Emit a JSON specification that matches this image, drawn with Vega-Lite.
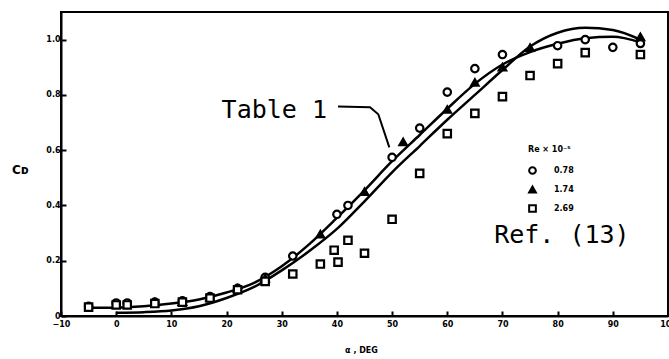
{
  "$schema": "https://vega.github.io/schema/vega-lite/v6.json",
  "width": 607,
  "height": 304,
  "autosize": {"type": "none"},
  "padding": {"left": 61, "top": 12, "right": 1, "bottom": 43},
  "background": "white",
  "config": {
    "view": {"stroke": "black", "strokeWidth": 2},
    "font": "DejaVu Sans",
    "axis": {"grid": false, "domainColor": "black", "domainWidth": 2, "tickColor": "black", "tickWidth": 2, "labelColor": "black", "titleColor": "black"},
    "legend": {"titleFontSize": 8, "titleFontWeight": "bold", "labelFontSize": 8, "labelFontWeight": "bold", "symbolSize": 45, "symbolStrokeWidth": 2, "rowPadding": 4, "labelOffset": 17, "titlePadding": 12}
  },
  "datasets": {
    "curves": [
      {"a": -5, "cd": 0.03, "src": "Ref. (13)"},
      {"a": 0, "cd": 0.03, "src": "Ref. (13)"},
      {"a": 5, "cd": 0.035, "src": "Ref. (13)"},
      {"a": 10, "cd": 0.045, "src": "Ref. (13)"},
      {"a": 15, "cd": 0.06, "src": "Ref. (13)"},
      {"a": 20, "cd": 0.085, "src": "Ref. (13)"},
      {"a": 25, "cd": 0.12, "src": "Ref. (13)"},
      {"a": 30, "cd": 0.18, "src": "Ref. (13)"},
      {"a": 35, "cd": 0.26, "src": "Ref. (13)"},
      {"a": 40, "cd": 0.355, "src": "Ref. (13)"},
      {"a": 45, "cd": 0.455, "src": "Ref. (13)"},
      {"a": 50, "cd": 0.56, "src": "Ref. (13)"},
      {"a": 55, "cd": 0.655, "src": "Ref. (13)"},
      {"a": 60, "cd": 0.75, "src": "Ref. (13)"},
      {"a": 65, "cd": 0.84, "src": "Ref. (13)"},
      {"a": 70, "cd": 0.91, "src": "Ref. (13)"},
      {"a": 75, "cd": 0.955, "src": "Ref. (13)"},
      {"a": 80, "cd": 0.985, "src": "Ref. (13)"},
      {"a": 85, "cd": 1.005, "src": "Ref. (13)"},
      {"a": 90, "cd": 1.01, "src": "Ref. (13)"},
      {"a": 95, "cd": 0.99, "src": "Ref. (13)"},
      {"a": 0, "cd": 0.012, "src": "Table 1"},
      {"a": 5, "cd": 0.014, "src": "Table 1"},
      {"a": 10, "cd": 0.02, "src": "Table 1"},
      {"a": 15, "cd": 0.035, "src": "Table 1"},
      {"a": 20, "cd": 0.065, "src": "Table 1"},
      {"a": 25, "cd": 0.105, "src": "Table 1"},
      {"a": 30, "cd": 0.165, "src": "Table 1"},
      {"a": 35, "cd": 0.235, "src": "Table 1"},
      {"a": 40, "cd": 0.315, "src": "Table 1"},
      {"a": 45, "cd": 0.415, "src": "Table 1"},
      {"a": 50, "cd": 0.52, "src": "Table 1"},
      {"a": 55, "cd": 0.615, "src": "Table 1"},
      {"a": 60, "cd": 0.71, "src": "Table 1"},
      {"a": 65, "cd": 0.8, "src": "Table 1"},
      {"a": 70, "cd": 0.89, "src": "Table 1"},
      {"a": 75, "cd": 0.975, "src": "Table 1"},
      {"a": 80, "cd": 1.025, "src": "Table 1"},
      {"a": 85, "cd": 1.043, "src": "Table 1"},
      {"a": 90, "cd": 1.035, "src": "Table 1"},
      {"a": 95, "cd": 1.0, "src": "Table 1"}
    ],
    "leader": [
      {"i": 1, "a": 40.2, "cd": 0.758},
      {"i": 2, "a": 46.0, "cd": 0.755},
      {"i": 3, "a": 47.5, "cd": 0.73},
      {"i": 4, "a": 49.5, "cd": 0.61}
    ],
    "labels": [
      {"a": 19.1, "cd": 0.715, "t": "Table 1"},
      {"a": 68.5, "cd": 0.264, "t": "Ref. (13)"}
    ],
    "points": [
      {"a": -5, "cd": 0.035, "re": "0.78"},
      {"a": 0, "cd": 0.047, "re": "0.78"},
      {"a": 2, "cd": 0.047, "re": "0.78"},
      {"a": 7, "cd": 0.05, "re": "0.78"},
      {"a": 12, "cd": 0.055, "re": "0.78"},
      {"a": 17, "cd": 0.07, "re": "0.78"},
      {"a": 22, "cd": 0.1, "re": "0.78"},
      {"a": 27, "cd": 0.14, "re": "0.78"},
      {"a": 32, "cd": 0.217, "re": "0.78"},
      {"a": 40, "cd": 0.368, "re": "0.78"},
      {"a": 42, "cd": 0.4, "re": "0.78"},
      {"a": 50, "cd": 0.574, "re": "0.78"},
      {"a": 55, "cd": 0.68, "re": "0.78"},
      {"a": 60, "cd": 0.81, "re": "0.78"},
      {"a": 65, "cd": 0.895, "re": "0.78"},
      {"a": 70, "cd": 0.946, "re": "0.78"},
      {"a": 80, "cd": 0.978, "re": "0.78"},
      {"a": 85, "cd": 1.0, "re": "0.78"},
      {"a": 90, "cd": 0.972, "re": "0.78"},
      {"a": 95, "cd": 0.986, "re": "0.78"},
      {"a": 7, "cd": 0.05, "re": "1.74"},
      {"a": 12, "cd": 0.052, "re": "1.74"},
      {"a": 17, "cd": 0.068, "re": "1.74"},
      {"a": 22, "cd": 0.1, "re": "1.74"},
      {"a": 27, "cd": 0.137, "re": "1.74"},
      {"a": 37, "cd": 0.296, "re": "1.74"},
      {"a": 45, "cd": 0.45, "re": "1.74"},
      {"a": 52, "cd": 0.63, "re": "1.74"},
      {"a": 60, "cd": 0.747, "re": "1.74"},
      {"a": 65, "cd": 0.845, "re": "1.74"},
      {"a": 70, "cd": 0.9, "re": "1.74"},
      {"a": 75, "cd": 0.971, "re": "1.74"},
      {"a": 95, "cd": 1.01, "re": "1.74"},
      {"a": -5, "cd": 0.032, "re": "2.69"},
      {"a": 0, "cd": 0.04, "re": "2.69"},
      {"a": 2, "cd": 0.04, "re": "2.69"},
      {"a": 7, "cd": 0.045, "re": "2.69"},
      {"a": 12, "cd": 0.05, "re": "2.69"},
      {"a": 17, "cd": 0.065, "re": "2.69"},
      {"a": 22, "cd": 0.095, "re": "2.69"},
      {"a": 27, "cd": 0.125, "re": "2.69"},
      {"a": 32, "cd": 0.152, "re": "2.69"},
      {"a": 37, "cd": 0.188, "re": "2.69"},
      {"a": 39.5, "cd": 0.238, "re": "2.69"},
      {"a": 40.2, "cd": 0.195, "re": "2.69"},
      {"a": 42, "cd": 0.274, "re": "2.69"},
      {"a": 45, "cd": 0.227, "re": "2.69"},
      {"a": 50, "cd": 0.35, "re": "2.69"},
      {"a": 55, "cd": 0.516, "re": "2.69"},
      {"a": 60, "cd": 0.66, "re": "2.69"},
      {"a": 65, "cd": 0.733, "re": "2.69"},
      {"a": 70, "cd": 0.794, "re": "2.69"},
      {"a": 75, "cd": 0.87, "re": "2.69"},
      {"a": 80, "cd": 0.913, "re": "2.69"},
      {"a": 85, "cd": 0.953, "re": "2.69"},
      {"a": 95, "cd": 0.946, "re": "2.69"}
    ]
  },
  "layer": [
    {
      "data": {"name": "curves"},
      "mark": {"type": "line", "color": "black", "strokeWidth": 2.5, "interpolate": "monotone"},
      "encoding": {
        "x": {
          "field": "a", "type": "quantitative",
          "scale": {"domain": [-10, 100], "nice": false, "zero": false},
          "axis": {
            "values": [-10, 0, 10, 20, 30, 40, 50, 60, 70, 80, 90, 100],
            "tickSize": -5, "labelPadding": 9, "labelFontSize": 8, "labelFontWeight": "bold",
            "title": "α , DEG", "titleFontSize": 8, "titleFontWeight": "bold",
            "titleX": 300, "titleY": 30, "labelFlush": false
          }
        },
        "y": {
          "field": "cd", "type": "quantitative",
          "scale": {"domain": [0, 1.1], "nice": false},
          "axis": {
            "values": [0, 0.2, 0.4, 0.6, 0.8, 1.0],
            "labelExpr": "datum.value == 0 ? '0' : format(datum.value, '.1f')",
            "tickSize": -5, "labelPadding": 6, "labelFontSize": 8, "labelFontWeight": "bold",
            "title": "Cᴅ", "titleAngle": 0, "titleFontSize": 12, "titleFontWeight": "bold",
            "titleX": -41, "titleY": 164
          }
        },
        "detail": {"field": "src"}
      }
    },
    {
      "data": {"name": "leader"},
      "mark": {"type": "line", "color": "black", "strokeWidth": 2},
      "encoding": {
        "x": {"field": "a", "type": "quantitative"},
        "y": {"field": "cd", "type": "quantitative"},
        "order": {"field": "i"}
      }
    },
    {
      "data": {"name": "points"},
      "mark": {"type": "point", "strokeWidth": 2.2, "opacity": 1, "fillOpacity": 1, "size": 55},
      "encoding": {
        "x": {"field": "a", "type": "quantitative"},
        "y": {"field": "cd", "type": "quantitative"},
        "shape": {
          "field": "re", "type": "nominal",
          "scale": {"domain": ["0.78", "1.74", "2.69"], "range": ["circle", "triangle-up", "square"]},
          "legend": {"title": "Re × 10⁻⁵", "orient": "none", "legendX": 467, "legendY": 134}
        },
        "fill": {
          "field": "re", "type": "nominal",
          "scale": {"domain": ["0.78", "1.74", "2.69"], "range": ["white", "black", "white"]},
          "legend": {"title": "Re × 10⁻⁵", "orient": "none", "legendX": 467, "legendY": 134}
        },
        "stroke": {
          "field": "re", "type": "nominal",
          "scale": {"domain": ["0.78", "1.74", "2.69"], "range": ["black", "black", "black"]},
          "legend": {"title": "Re × 10⁻⁵", "orient": "none", "legendX": 467, "legendY": 134}
        }
      }
    },
    {
      "data": {"name": "labels"},
      "mark": {"type": "text", "font": "DejaVu Sans Mono", "fontSize": 25, "align": "left", "baseline": "alphabetic", "color": "black"},
      "encoding": {
        "x": {"field": "a", "type": "quantitative"},
        "y": {"field": "cd", "type": "quantitative"},
        "text": {"field": "t"}
      }
    }
  ]
}
